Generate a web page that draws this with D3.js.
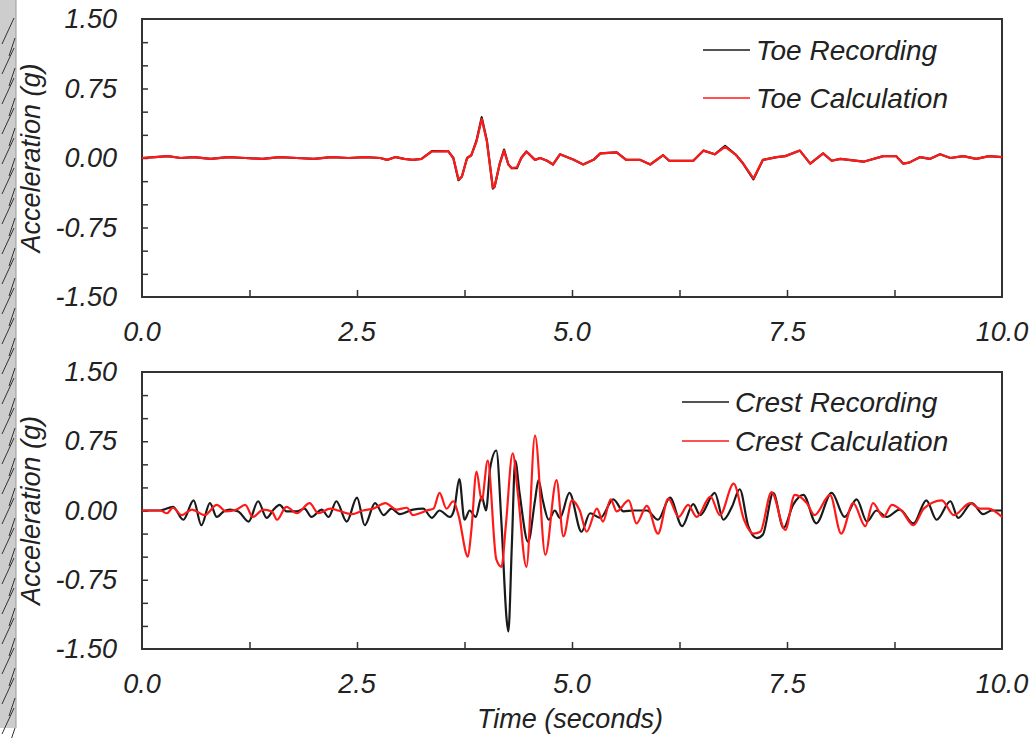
<!DOCTYPE html>
<html>
<head>
<meta charset="UTF-8">
<title>Toe and Crest Acceleration</title>
<script src="https://d3js.org/d3.v7.min.js"></script>
<style>
  body { margin: 0; background: #fff; }
  svg { display: block; }
  text { font-family: "Liberation Sans", Arial, sans-serif; font-style: italic; fill: #222; }
</style>
</head>
<body>
<svg width="1036" height="738"></svg>
<script>
// toe record (top panel)
const toeTime = [0, 0.15, 0.3, 0.45, 0.6, 0.8, 1.0, 1.2, 1.4, 1.6, 1.8, 2.0, 2.2, 2.4, 2.6, 2.77, 2.85, 2.95, 3.05, 3.15, 3.25, 3.37, 3.56, 3.62, 3.68, 3.72, 3.78, 3.83, 3.89, 3.95, 4.01, 4.08, 4.10, 4.16, 4.21, 4.26, 4.30, 4.36, 4.41, 4.47, 4.57, 4.63, 4.71, 4.78, 4.86, 4.94, 5.02, 5.13, 5.25, 5.33, 5.52, 5.63, 5.79, 5.91, 6.06, 6.13, 6.41, 6.53, 6.66, 6.78, 6.91, 6.99, 7.11, 7.22, 7.38, 7.48, 7.65, 7.77, 7.92, 8.02, 8.12, 8.39, 8.62, 8.77, 8.85, 8.92, 9.05, 9.16, 9.28, 9.4, 9.55, 9.7, 9.85, 10];
const toeRecording = [0, 0.01, 0.02, 0, 0.01, -0.01, 0.01, 0, -0.01, 0.01, 0, -0.01, 0.01, 0, 0.01, 0, -0.02, 0.01, -0.01, -0.02, -0.01, 0.075, 0.075, 0, -0.24, -0.20, 0, 0.03, 0.19, 0.44, 0.19, -0.33, -0.31, -0.06, 0.09, -0.07, -0.11, -0.11, 0, 0.07, -0.02, 0, -0.03, -0.07, 0.04, 0.01, -0.02, -0.07, -0.02, 0.05, 0.06, -0.02, -0.02, -0.07, 0.03, -0.03, -0.03, 0.08, 0.04, 0.13, 0.03, -0.06, -0.23, -0.02, 0.01, 0.02, 0.08, -0.06, 0.05, -0.03, -0.01, -0.04, 0.02, 0.02, -0.06, -0.05, 0.01, -0.01, 0.04, 0, 0.02, -0.01, 0.02, 0.01];
const toeCalculation = [0, 0.01, 0.02, 0, 0.01, -0.01, 0.01, 0, -0.01, 0.01, 0, -0.01, 0.01, 0, 0.01, 0, -0.02, 0.01, -0.01, -0.02, -0.01, 0.07, 0.075, 0, -0.23, -0.20, 0, 0.03, 0.18, 0.42, 0.18, -0.32, -0.31, -0.06, 0.08, -0.07, -0.11, -0.10, 0, 0.07, -0.02, 0, -0.03, -0.07, 0.04, 0.01, -0.02, -0.07, -0.02, 0.05, 0.06, -0.02, -0.02, -0.07, 0.03, -0.03, -0.03, 0.08, 0.04, 0.12, 0.03, -0.06, -0.22, -0.02, 0.01, 0.02, 0.08, -0.06, 0.05, -0.03, -0.01, -0.04, 0.02, 0.02, -0.06, -0.05, 0.01, -0.01, 0.04, 0, 0.02, -0.01, 0.02, 0.01];

// crest record (bottom panel)
const crestRecTime = [0, 0.21, 0.25, 0.36, 0.48, 0.60, 0.69, 0.79, 0.87, 0.95, 1.02, 1.12, 1.24, 1.35, 1.45, 1.53, 1.60, 1.68, 1.80, 1.89, 1.97, 2.09, 2.17, 2.26, 2.38, 2.50, 2.59, 2.71, 2.81, 2.90, 3.00, 3.15, 3.27, 3.37, 3.46, 3.58, 3.63, 3.69, 3.75, 3.81, 3.88, 3.95, 4.00, 4.05, 4.12, 4.18, 4.24, 4.26, 4.30, 4.34, 4.39, 4.49, 4.57, 4.61, 4.66, 4.73, 4.80, 4.86, 4.97, 5.11, 5.21, 5.33, 5.48, 5.60, 5.71, 5.87, 6.00, 6.14, 6.28, 6.41, 6.49, 6.66, 6.76, 6.86, 6.95, 7.05, 7.15, 7.22, 7.34, 7.46, 7.57, 7.69, 7.84, 8.02, 8.17, 8.31, 8.43, 8.54, 8.66, 8.81, 8.97, 9.12, 9.24, 9.40, 9.49, 9.65, 9.78, 9.88, 10];
const crestRecording = [0, 0, 0.01, 0.04, -0.10, 0.11, -0.16, 0.08, -0.07, -0.01, 0.01, -0.01, -0.12, 0.10, -0.08, 0.01, 0.06, -0.01, -0.01, 0.02, -0.07, 0.01, -0.07, 0.10, -0.12, 0.14, -0.16, 0.08, -0.05, 0.02, -0.04, 0.01, 0.02, -0.08, 0, -0.07, 0.01, 0.34, -0.10, 0, -0.07, 0.15, 0, 0.47, 0.65, -0.14, -1.18, -1.31, -0.39, 0.54, 0.19, -0.34, 0.11, 0.33, 0.11, -0.10, 0, -0.08, 0.19, -0.23, -0.03, -0.08, 0.12, -0.01, 0, 0, -0.10, 0.14, -0.17, 0.07, -0.05, 0.19, -0.10, 0.04, 0.23, -0.17, -0.30, -0.26, 0.19, -0.19, 0.06, 0.17, -0.14, 0.19, -0.07, 0.12, -0.12, 0, -0.07, 0.01, -0.14, 0.11, -0.10, 0.10, -0.08, 0.08, -0.04, 0, 0];
const crestCalcTime = [0, 0.21, 0.29, 0.36, 0.46, 0.58, 0.73, 0.87, 0.98, 1.10, 1.20, 1.29, 1.41, 1.51, 1.57, 1.68, 1.80, 1.95, 2.05, 2.19, 2.28, 2.44, 2.57, 2.69, 2.83, 2.96, 3.08, 3.15, 3.23, 3.31, 3.39, 3.46, 3.54, 3.62, 3.68, 3.79, 3.83, 3.89, 3.95, 4.02, 4.12, 4.18, 4.23, 4.31, 4.37, 4.47, 4.57, 4.69, 4.82, 4.90, 5.00, 5.09, 5.17, 5.29, 5.36, 5.45, 5.52, 5.66, 5.75, 5.87, 6.00, 6.12, 6.24, 6.35, 6.45, 6.61, 6.72, 6.88, 7.00, 7.11, 7.19, 7.32, 7.48, 7.59, 7.73, 7.82, 8.00, 8.13, 8.27, 8.41, 8.50, 8.62, 8.72, 8.83, 8.97, 9.09, 9.30, 9.44, 9.63, 9.74, 9.84, 10];
const crestCalculation = [0, 0, -0.03, 0.03, -0.05, 0.01, -0.05, 0.06, -0.01, 0.01, 0.06, -0.07, 0.01, -0.01, -0.10, 0.04, -0.03, 0.08, -0.03, 0.02, 0, -0.04, 0, 0.02, 0.08, 0.01, 0.03, -0.05, -0.03, 0, 0.02, 0.19, 0.02, 0.10, -0.05, -0.50, -0.21, 0.42, 0.11, 0.54, -0.53, -0.61, -0.17, 0.62, 0.19, -0.61, 0.81, -0.48, 0.33, -0.28, 0.11, 0, -0.23, 0.02, -0.12, 0.12, -0.01, 0.11, -0.14, 0.05, -0.25, 0.13, -0.07, 0.06, -0.07, 0.15, -0.05, 0.29, -0.10, -0.25, -0.23, 0.20, -0.21, 0.17, 0.08, -0.05, 0.17, -0.25, 0.08, -0.17, 0.08, -0.07, 0.06, 0, -0.16, 0.02, 0.11, -0.05, 0.08, 0.02, 0.02, -0.07];

const yTickLabels = [-1.5, -0.75, 0, 0.75, 1.5];
const xTickLabels = [0, 2.5, 5, 7.5, 10];

const svg = d3.select("svg");

// grey scanned strip on the left edge
svg.append("rect").attr("x", 0).attr("y", 0).attr("width", 16).attr("height", 728).attr("fill", "#cdcdcd");
svg.append("line").attr("x1", 16).attr("x2", 16).attr("y1", 0).attr("y2", 728).attr("stroke", "#9a9a9a").attr("stroke-width", 1);
const scribble = d3.range(0, 700, 30);
svg.append("g").selectAll("path").data(scribble).join("path")
    .attr("d", d => `M2,${d + 44} L14,${d + 18} M9,${d + 56} L15,${d + 38}`)
    .attr("stroke", "#333").attr("stroke-width", 1).attr("fill", "none");

const x = d3.scaleLinear().domain([0, 10]).range([142, 1002]);

function panel(top, bottom, series, legend) {
    const y = d3.scaleLinear().domain([-1.5, 1.5]).range([bottom, top]);
    const g = svg.append("g");

    g.append("rect")
        .attr("x", x(0)).attr("y", top)
        .attr("width", x(10) - x(0)).attr("height", bottom - top)
        .attr("fill", "none").attr("stroke", "#333").attr("stroke-width", 2);

    // inner ticks
    g.append("g").attr("transform", `translate(${x(0)},0)`)
        .call(d3.axisRight(y).tickValues(d3.range(-1.25, 1.5, 0.25)).tickSize(6).tickFormat(""))
        .call(a => a.select(".domain").remove())
        .call(a => a.selectAll("line").attr("stroke", "#333").attr("stroke-width", 1.5));
    g.append("g").attr("transform", `translate(0,${bottom})`)
        .call(d3.axisTop(x).tickValues(d3.range(1.25, 10, 1.25)).tickSize(7).tickFormat(""))
        .call(a => a.select(".domain").remove())
        .call(a => a.selectAll("line").attr("stroke", "#333").attr("stroke-width", 1.5));

    g.selectAll(".ylab").data(yTickLabels).join("text")
        .attr("x", 117).attr("y", d => y(d) + 9)
        .attr("text-anchor", "end").attr("font-size", 27)
        .text(d => d.toFixed(2));
    g.selectAll(".xlab").data(xTickLabels).join("text")
        .attr("x", d => x(d)).attr("y", bottom + 44)
        .attr("text-anchor", "middle").attr("font-size", 27)
        .text(d => d.toFixed(1));

    g.append("text")
        .attr("transform", `translate(40,${(top + bottom) / 2}) rotate(-90)`)
        .attr("text-anchor", "middle").attr("font-size", 27)
        .text("Acceleration (g)");

    series.forEach(s => {
        const pts = s.t.map((t, i) => [t, s.v[i]]);
        g.append("path").datum(pts)
            .attr("fill", "none").attr("stroke", s.color).attr("stroke-width", 2.2)
            .attr("stroke-linejoin", "round")
            .attr("d", d3.line().x(d => x(d[0])).y(d => y(d[1])).curve(s.curve));
    });

    legend.items.forEach((it, i) => {
        const ly = legend.y + i * legend.step;
        g.append("line").attr("x1", legend.x).attr("x2", legend.x + 47)
            .attr("y1", ly).attr("y2", ly).attr("stroke", it.color).attr("stroke-width", 1.5);
        g.append("text").attr("x", legend.x + 53).attr("y", ly + 10)
            .attr("font-size", 28).text(it.label);
    });
}

panel(19, 297, [
    { t: toeTime, v: toeRecording, color: "#1a1a1a", curve: d3.curveLinear },
    { t: toeTime, v: toeCalculation, color: "#ff1a1a", curve: d3.curveLinear }
], { x: 703, y: 50, step: 48, items: [
    { label: "Toe Recording", color: "#1a1a1a" },
    { label: "Toe Calculation", color: "#ff1a1a" }
] });

panel(372, 649, [
    { t: crestRecTime, v: crestRecording, color: "#1a1a1a", curve: d3.curveMonotoneX },
    { t: crestCalcTime, v: crestCalculation, color: "#ff1a1a", curve: d3.curveMonotoneX }
], { x: 682, y: 402, step: 39, items: [
    { label: "Crest Recording", color: "#1a1a1a" },
    { label: "Crest Calculation", color: "#ff1a1a" }
] });

svg.append("text").attr("x", 570).attr("y", 728)
    .attr("text-anchor", "middle").attr("font-size", 27)
    .text("Time (seconds)");
</script>
</body>
</html>
